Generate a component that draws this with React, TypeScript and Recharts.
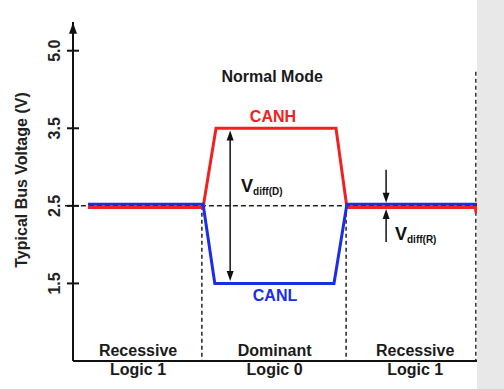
import React from 'react';
import { LineChart, Line, XAxis, YAxis, ReferenceLine, ReferenceDot } from 'recharts';

// Time axis in arbitrary units (0..100), voltage in volts.
const canhData = [
  { t: 3.7, v: 2.48 },
  { t: 32.2, v: 2.48 },
  { t: 35.4, v: 3.5 },
  { t: 65.1, v: 3.5 },
  { t: 67.8, v: 2.48 },
  { t: 99.6, v: 2.48 },
  { t: 99.8, v: 2.4 },
];
const canlData = [
  { t: 3.7, v: 2.52 },
  { t: 32.2, v: 2.52 },
  { t: 35.1, v: 1.5 },
  { t: 64.6, v: 1.5 },
  { t: 67.8, v: 2.52 },
  { t: 100, v: 2.52 },
];

// The axis is broken at the top: the 4th tick is labelled 5.0
const yTickValues = [1.5, 2.5, 3.5, 4.5];
const yTickLabels = ['1.5', '2.5', '3.5', '5.0'];

const xRegionTicks = [16.1, 49.9, 84.7];
const regionState = ['Recessive', 'Dominant', 'Recessive'];
const regionLogic = ['Logic 1', 'Logic 0', 'Logic 1'];

const bitEdges = [31.9, 67.6];
const rightEdge = 99.7;
const recessiveLevel = 2.5;
const domD = { t: 38.9, hi: 3.47, lo: 1.53 };
const domR = { t: 77.5, upTop: 2.965, upTip: 2.539, loTip: 2.461, loBottom: 2.035 };

const FONT = '"Liberation Sans", Arial, Helvetica, sans-serif';
const RED = '#ee2222';
const BLUE = '#1a2ee6';

const YTick = (props: any) => {
  const { x, y, payload } = props;
  const i = yTickValues.indexOf(payload.value);
  const tx = x - 13;
  return (
    <g>
      <line x1={x - 6} x2={x + 6} y1={y} y2={y} stroke="#111" strokeWidth={2} />
      <text
        x={tx}
        y={y}
        transform={`rotate(-90, ${tx}, ${y})`}
        textAnchor="middle"
        fontFamily={FONT}
        fontWeight="bold"
        fontSize={16}
        fill="#222"
      >
        {yTickLabels[i]}
      </text>
    </g>
  );
};

const XTick = (props: any) => {
  const { x, y, payload } = props;
  const i = xRegionTicks.indexOf(payload.value);
  return (
    <g fontFamily={FONT} fontWeight="bold" fontSize={16} fill="#1a1a1a">
      <text x={x} y={y - 5} textAnchor="middle">{regionState[i]}</text>
      <text x={x} y={y + 13.5} textAnchor="middle">{regionLogic[i]}</text>
    </g>
  );
};

const upHead = (p: any) => (
  <polygon points={`${p.cx},${p.cy} ${p.cx - 3.5},${p.cy + 10} ${p.cx + 3.5},${p.cy + 10}`} fill="#111" />
);
const downHead = (p: any) => (
  <polygon points={`${p.cx},${p.cy} ${p.cx - 3.5},${p.cy - 10} ${p.cx + 3.5},${p.cy - 10}`} fill="#111" />
);
const axisHead = (p: any) => (
  <polygon points={`${p.cx},${p.cy} ${p.cx - 4},${p.cy + 11} ${p.cx + 4},${p.cy + 11}`} fill="#111" />
);

const textShape = (label: string, color: string, anchor: string = 'middle') => (p: any) => (
  <text x={p.cx} y={p.cy} textAnchor={anchor} fontFamily={FONT} fontWeight="bold" fontSize={16} fill={color}>
    {label}
  </text>
);

const vdiffShape = (sub: string) => (p: any) => (
  <text x={p.cx} y={p.cy} fontFamily={FONT} fontWeight="bold" fill="#111">
    <tspan fontSize={18}>V</tspan>
    <tspan fontSize={10} dy={3}>{sub}</tspan>
  </text>
);

const YLabel = (props: any) => {
  const vb = props.viewBox || { x: 0, y: 22 };
  const x = vb.x + 27;
  const y = vb.y + 158;
  return (
    <text
      x={x}
      y={y}
      transform={`rotate(-90, ${x}, ${y})`}
      textAnchor="middle"
      fontFamily={FONT}
      fontWeight="bold"
      fontSize={16}
      fill="#222"
    >
      Typical Bus Voltage (V)
    </text>
  );
};

export default function App() {
  return (
    <div style={{ position: 'absolute', left: 0, top: 0, width: 504, height: 389, background: '#fff', overflow: 'hidden' }}>
      <LineChart width={504} height={389} margin={{ top: 22, right: 27, bottom: 0, left: 0 }}>
        <XAxis
          dataKey="t"
          type="number"
          domain={[0, 100]}
          allowDataOverflow
          ticks={xRegionTicks}
          interval={0}
          tick={<XTick />}
          tickLine={false}
          tickSize={0}
          tickMargin={0}
          height={28}
          axisLine={{ stroke: '#111', strokeWidth: 2 }}
        />
        <YAxis
          type="number"
          domain={[0.5, 4.87]}
          allowDataOverflow
          ticks={yTickValues}
          interval={0}
          tick={<YTick />}
          tickLine={false}
          tickSize={0}
          tickMargin={0}
          width={73}
          axisLine={{ stroke: '#111', strokeWidth: 2 }}
          label={{ content: <YLabel /> }}
        />

        <ReferenceLine
          segment={[{ x: -2, y: recessiveLevel }, { x: 100, y: recessiveLevel }]}
          stroke="#222"
          strokeWidth={1.5}
          strokeDasharray="5 3"
          ifOverflow="visible"
        />
        {bitEdges.map((t) => (
          <ReferenceLine
            key={t}
            segment={[{ x: t, y: recessiveLevel }, { x: t, y: 0.5 }]}
            stroke="#222"
            strokeWidth={1.5}
            strokeDasharray="4 3"
            ifOverflow="visible"
          />
        ))}
        <ReferenceLine
          segment={[{ x: rightEdge, y: 4.23 }, { x: rightEdge, y: 0.5 }]}
          stroke="#333"
          strokeWidth={1.5}
          strokeDasharray="4 3"
          ifOverflow="visible"
        />

        <Line data={canhData} dataKey="v" type="linear" stroke={RED} strokeWidth={3} dot={false} isAnimationActive={false} />
        <Line data={canlData} dataKey="v" type="linear" stroke={BLUE} strokeWidth={3} dot={false} isAnimationActive={false} />

        {/* Vdiff(D) double arrow */}
        <ReferenceLine segment={[{ x: domD.t, y: domD.hi + -0.05 }, { x: domD.t, y: domD.lo + 0.05 }]} stroke="#111" strokeWidth={1.5} ifOverflow="visible" />
        <ReferenceDot x={domD.t} y={domD.hi} r={0} shape={upHead} ifOverflow="visible" />
        <ReferenceDot x={domD.t} y={domD.lo} r={0} shape={downHead} ifOverflow="visible" />

        {/* Vdiff(R) arrows */}
        <ReferenceLine segment={[{ x: domR.t, y: domR.upTop }, { x: domR.t, y: domR.upTip + 0.05 }]} stroke="#111" strokeWidth={1.5} ifOverflow="visible" />
        <ReferenceDot x={domR.t} y={domR.upTip} r={0} shape={downHead} ifOverflow="visible" />
        <ReferenceLine segment={[{ x: domR.t, y: domR.loTip - 0.05 }, { x: domR.t, y: domR.loBottom }]} stroke="#111" strokeWidth={1.5} ifOverflow="visible" />
        <ReferenceDot x={domR.t} y={domR.loTip} r={0} shape={upHead} ifOverflow="visible" />

        {/* y axis arrow head */}
        <ReferenceDot x={0} y={4.86} r={0} shape={axisHead} ifOverflow="visible" />

        {/* annotations */}
        <ReferenceDot x={49.3} y={4.1} r={0} shape={textShape('Normal Mode', '#1a1a1a')} ifOverflow="visible" />
        <ReferenceDot x={49.5} y={3.584} r={0} shape={textShape('CANH', RED)} ifOverflow="visible" />
        <ReferenceDot x={50} y={1.274} r={0} shape={textShape('CANL', BLUE)} ifOverflow="visible" />
        <ReferenceDot x={41.6} y={2.68} r={0} shape={vdiffShape('diff(D)')} ifOverflow="visible" />
        <ReferenceDot x={79.7} y={2.061} r={0} shape={vdiffShape('diff(R)')} ifOverflow="visible" />
      </LineChart>
      <div style={{ position: 'absolute', left: 477, top: 0, width: 27, height: 389, background: '#e8e8e8' }} />
    </div>
  );
}
